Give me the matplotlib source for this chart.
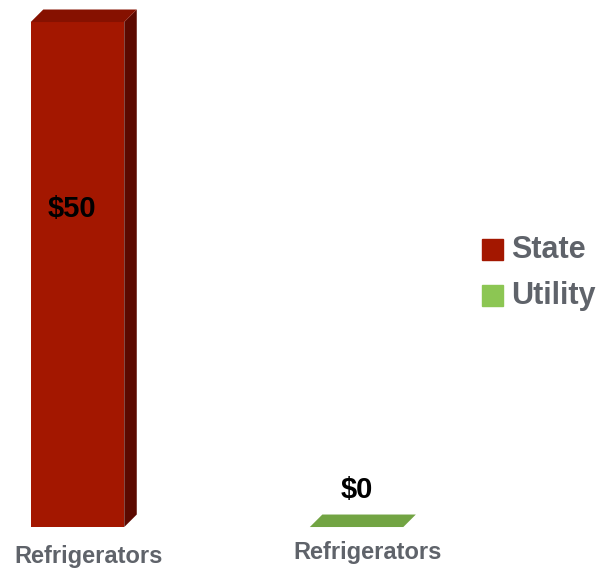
import matplotlib.pyplot as plt
from matplotlib.patches import Polygon, Rectangle

# 数据
categories = ['Refrigerators', 'Refrigerators']
series = ['State', 'Utility']
values = [50, 0]
value_labels = ['$50', '$0']

front_colors = ['#a31700', '#72a443']
top_colors = ['#861100', '#6e9e3e']
side_colors = ['#5c0900', '#4f7a2a']
legend_colors = ['#a31700', '#8cc653']
text_gray = '#5f636a'

fig = plt.figure(figsize=(5.96, 5.70), dpi=100)
ax = fig.add_axes([0, 0.0754, 1, 0.886])
ax.set_xlim(-0.2778, 1.858)
ax.set_ylim(0, 50)
ax.axis('off')

# 三维效果的偏移（像素转数据单位）
px_x = (1.858 + 0.2778) / 596
px_y = 50 / (0.886 * 570)
dx, dy = 12.5 * px_x, 12.5 * px_y
w = 0.335

for i, v in enumerate(values):
    x0 = i - w / 2
    x1 = i + w / 2
    # 正面和侧面
    if v > 0:
        ax.add_patch(Rectangle((x0, 0), w, v, color=front_colors[i], lw=0, clip_on=False))
        ax.add_patch(Polygon([(x1, 0), (x1 + dx, dy), (x1 + dx, v + dy), (x1, v)],
                             closed=True, color=side_colors[i], lw=0, clip_on=False))
    # 顶面
    ax.add_patch(Polygon([(x0, v), (x0 + dx, v + dy), (x1 + dx, v + dy), (x1, v)],
                         closed=True, color=top_colors[i] if v > 0 else front_colors[i],
                         lw=0, clip_on=False))

# 数值标签
ax.text(0 - 0.02, values[0] * 0.63, value_labels[0], ha='center', va='center',
        fontsize=21, fontweight='bold', family='Liberation Sans', color='black')
ax.text(1, values[1] + 3.7, value_labels[1], ha='center', va='center',
        fontsize=21, fontweight='bold', family='Liberation Sans', color='black')

# 类别标签
fig.text(89 / 596, 1 - 557 / 570, categories[0], ha='center', va='center',
         fontsize=17, fontweight='bold', family='Liberation Sans', color=text_gray)
fig.text(368 / 596, 1 - 553 / 570, categories[1], ha='center', va='center',
         fontsize=17, fontweight='bold', family='Liberation Sans', color=text_gray)

# 图例
for k, name in enumerate(series):
    yc = 1 - (250 + 46 * k) / 570
    fig.patches.append(Rectangle((482 / 596, yc - 10 / 570), 21 / 596, 21 / 570,
                                 color=legend_colors[k], transform=fig.transFigure, figure=fig))
    fig.text(511 / 596, yc, name, ha='left', va='center', fontsize=22,
             fontweight='bold', family='Liberation Sans', color=text_gray)

fig.savefig('out.png', dpi=100)
